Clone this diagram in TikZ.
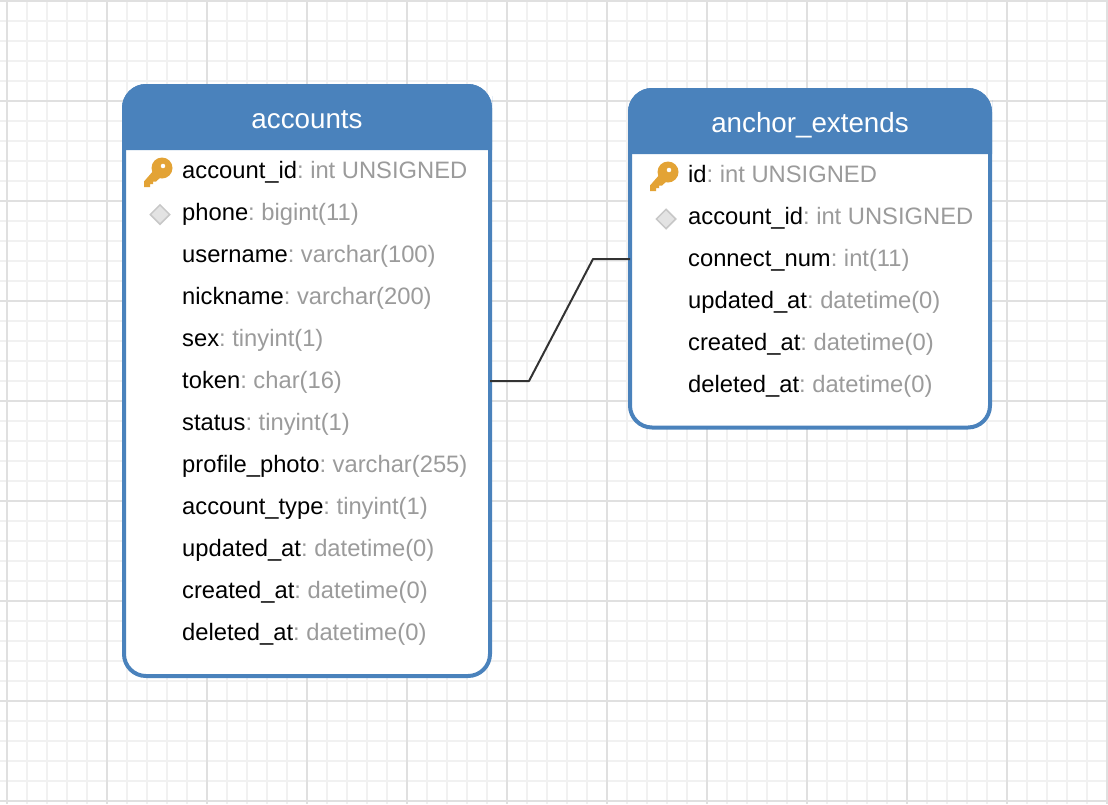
\documentclass[tikz,border=0pt]{standalone}
\usepackage{fontspec}
\setmainfont{Liberation Sans}
\usetikzlibrary{shapes.geometric}
\frenchspacing
\definecolor{hdrblue}{HTML}{4A82BC}
\definecolor{typegray}{HTML}{9B9B9B}
\definecolor{minorgrid}{HTML}{F1F1F1}
\definecolor{majorgrid}{HTML}{E0E0E0}
\definecolor{keygold}{HTML}{E3A335}
\definecolor{linkgray}{HTML}{333333}
\newcommand{\colrow}[5]{\node[rowtext] (#1) at (#2,#3) {#4\textcolor{typegray}{: #5}};}
\tikzset{
  rowtext/.style={anchor=base west,inner sep=0pt,font=\fontsize{23.75}{24}\selectfont,text=black},
  titletext/.style={anchor=base,inner sep=0pt,font=\fontsize{27.75}{28}\selectfont,text=white},
  tablebox/.style={draw=hdrblue,fill=white,line width=4pt,rounded corners=22pt,inner sep=0pt,outer sep=0pt,anchor=north west},
  hdrfill/.style={fill=hdrblue},
  minorline/.style={draw=minorgrid,line width=2pt},
  majorline/.style={draw=majorgrid,line width=2pt},
  link/.style={draw=linkgray,line width=2pt,line join=round},
  indexmark/.style={diamond,draw=black!22,fill=black!11,line width=1.5pt,minimum width=20pt,minimum height=20pt,inner sep=0pt},
  keyicon/.pic={
    \fill[keygold,even odd rule]
      (0,0) circle (10.5) (1,-2) circle (2.4);
    \fill[keygold] (-8,2) -- (-18,13.5) -- (-18,19) -- (-12,19) -- (-12,16) -- (-9,16) -- (-9,13.5) -- (-6,13.5) -- (-1,9) -- cycle;
  }
}
\begin{document}
\begin{tikzpicture}[x=1pt,y=-1pt]
\useasboundingbox (0,0) rectangle (1108,804);
% grid
\foreach \v in {27,47,67,87,127,147,167,187,227,247,267,287,327,347,367,387,427,447,467,487,527,547,567,587,627,647,667,687,727,747,767,787,827,847,867,887,927,947,967,987,1027,1047,1067,1087}
  \draw[minorline] (\v,0) -- (\v,804);
\foreach \v in {21,41,61,81,121,141,161,181,221,241,261,281,321,341,361,381,421,441,461,481,521,541,561,581,621,641,661,681,721,741,761,781}
  \draw[minorline] (0,\v) -- (1108,\v);
\foreach \v in {7,107,207,307,407,507,607,707,807,907,1007,1107}
  \draw[majorline] (\v,0) -- (\v,804);
\foreach \v in {1,101,201,301,401,501,601,701,801}
  \draw[majorline] (0,\v) -- (1108,\v);

% accounts table
\node[tablebox,minimum width=366pt,minimum height=590pt] (accounts) at (124,86) {};
\fill[hdrfill] (122,150) {[rounded corners=24pt] -- (122,84) -- (492,84) -- (492,120)} -- (492,150) -- cycle;
\node[titletext] (accountsTitle) at (307,128) {accounts};
\pic at (162,168) {keyicon};
\node[indexmark] (accountsIdx) at (160,214.5) {};
\colrow{a1}{182}{178}{account\_id}{int UNSIGNED}
\colrow{a2}{182}{220}{phone}{bigint(11)}
\colrow{a3}{182}{262}{username}{varchar(100)}
\colrow{a4}{182}{304}{nickname}{varchar(200)}
\colrow{a5}{182}{346}{sex}{tinyint(1)}
\colrow{a6}{182}{388}{token}{char(16)}
\colrow{a7}{182}{430}{status}{tinyint(1)}
\colrow{a8}{182}{472}{profile\_photo}{varchar(255)}
\colrow{a9}{182}{514}{account\_type}{tinyint(1)}
\colrow{a10}{182}{556}{updated\_at}{datetime(0)}
\colrow{a11}{182}{598}{created\_at}{datetime(0)}
\colrow{a12}{182}{640}{deleted\_at}{datetime(0)}

% anchor_extends table
\node[tablebox,minimum width=360pt,minimum height=337.5pt] (anchor) at (630,90) {};
\fill[hdrfill] (628,154) {[rounded corners=24pt] -- (628,88) -- (992,88) -- (992,124)} -- (992,154) -- cycle;
\node[titletext] (anchorTitle) at (810,132) {anchor\_extends};
\pic at (668,172) {keyicon};
\node[indexmark] (anchorIdx) at (666,219) {};
\colrow{b1}{688}{182}{id}{int UNSIGNED}
\colrow{b2}{688}{224}{account\_id}{int UNSIGNED}
\colrow{b3}{688}{266}{connect\_num}{int(11)}
\colrow{b4}{688}{308}{updated\_at}{datetime(0)}
\colrow{b5}{688}{350}{created\_at}{datetime(0)}
\colrow{b6}{688}{392}{deleted\_at}{datetime(0)}

% relation
\coordinate (linkA) at (accounts.east |- 0,381);
\coordinate (linkB) at (anchor.west |- 0,259);
\draw[link] (linkA) -- (529,381) -- (593,259) -- (linkB);
\end{tikzpicture}
\end{document}
